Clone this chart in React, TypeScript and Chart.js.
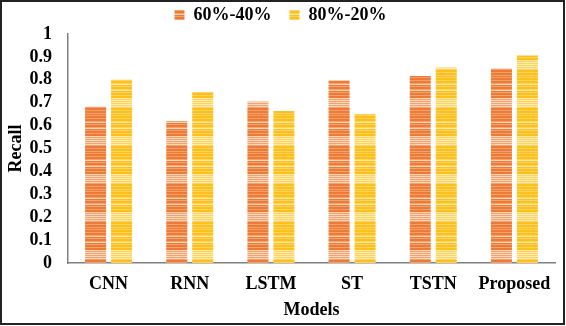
import React, { useEffect, useRef } from "react";
import { Chart, registerables } from "chart.js";

Chart.register(...registerables);

const categories = ["CNN", "RNN", "LSTM", "ST", "TSTN", "Proposed"];
const seriesNames = ["60%-40%", "80%-20%"];
const split6040 = [0.683, 0.62, 0.705, 0.797, 0.817, 0.85];
const split8020 = [0.8, 0.747, 0.664, 0.65, 0.854, 0.906];
const yTickLabels = ["0", "0.1", "0.2", "0.3", "0.4", "0.5", "0.6", "0.7", "0.8", "0.9", "1"];

const FONT = '"Liberation Serif", "Times New Roman", serif';

function makeStripePattern(base: string, mid: string, light: string): CanvasPattern | string {
  const c = document.createElement("canvas");
  c.width = 4;
  c.height = 38;
  const ctx = c.getContext("2d");
  if (!ctx) return base;
  for (let i = 0; i < c.height; i++) {
    let col = base;
    if (i % 3 === 1) col = mid;
    if (i >= 22 && i <= 30) col = i % 2 === 0 ? light : mid;
    if (i === 8 || i === 14) col = light;
    ctx.fillStyle = col;
    ctx.fillRect(0, i, c.width, 1);
  }
  return ctx.createPattern(c, "repeat") || base;
}

const borderPlugin = {
  id: "outerBorder",
  afterDraw(chart: any) {
    const ctx = chart.ctx;
    ctx.save();
    ctx.strokeStyle = "#222222";
    ctx.lineWidth = 2;
    ctx.strokeRect(1, 1, 563, 323);
    ctx.restore();
  },
};

export default function App() {
  const ref = useRef<HTMLCanvasElement>(null);

  useEffect(() => {
    document.body.style.margin = "0";
    const canvas = ref.current;
    if (!canvas) return;
    const orange = makeStripePattern("#EE7A36", "#F4A26C", "#FBD7BF");
    const yellow = makeStripePattern("#FFBF1A", "#FFD45E", "#FFEBB0");

    const chart = new Chart(canvas, {
      type: "bar",
      data: {
        labels: categories,
        datasets: [
          {
            label: seriesNames[0],
            data: split6040,
            backgroundColor: orange as any,
            borderWidth: 0,
            categoryPercentage: 0.64,
            barPercentage: 0.81,
          },
          {
            label: seriesNames[1],
            data: split8020,
            backgroundColor: yellow as any,
            borderWidth: 0,
            categoryPercentage: 0.64,
            barPercentage: 0.81,
          },
        ],
      },
      options: {
        responsive: false,
        animation: false,
        layout: { padding: { top: -12, left: 6, right: 11, bottom: 4 } },
        plugins: {
          tooltip: { enabled: false },
          legend: {
            position: "top",
            maxHeight: 51,
            labels: {
              boxWidth: 10,
              boxHeight: 10,
              padding: 18,
              color: "#000",
              font: { family: FONT, size: 18, weight: "bold" },
            },
          },
        },
        scales: {
          x: {
            grid: { display: false, drawTicks: false },
            border: { display: true, color: "#808080", width: 1.5 },
            ticks: {
              color: "#000",
              padding: 11,
              font: { family: FONT, size: 18, weight: "bold" },
            },
            title: {
              display: true,
              text: "Models",
              color: "#000",
              padding: { top: 0, bottom: 1 },
              font: { family: FONT, size: 18, weight: "bold" },
            },
            afterFit(scale: any) {
              scale.height = 59;
            },
          },
          y: {
            min: 0,
            max: 1,
            grid: { display: false, drawTicks: false },
            border: { display: true, color: "#808080", width: 1.5 },
            ticks: {
              stepSize: 0.1,
              autoSkip: false,
              color: "#000",
              padding: 16,
              font: { family: FONT, size: 18, weight: "bold" },
              callback: (_v: any, i: number) => yTickLabels[i],
            },
            title: {
              display: true,
              text: "Recall",
              color: "#000",
              padding: { top: 0, bottom: 0 },
              font: { family: FONT, size: 18, weight: "bold" },
            },
            afterFit(scale: any) {
              scale.width = 62;
            },
          },
        },
      },
      plugins: [borderPlugin],
    });
    return () => chart.destroy();
  }, []);

  return (
    <div style={{ width: 566, height: 326 }}>
      <canvas ref={ref} width={566} height={326} style={{ display: "block" }} />
    </div>
  );
}
